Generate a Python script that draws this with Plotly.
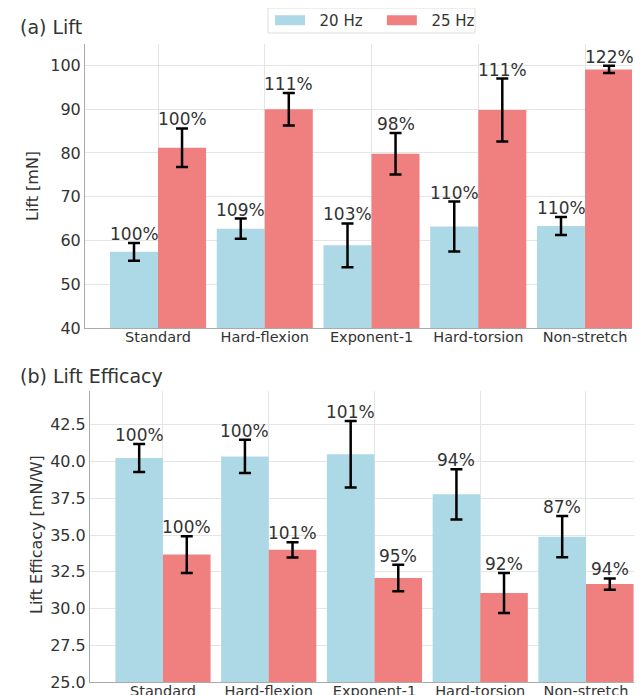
import plotly.graph_objects as go

categories = ["Standard", "Hard-flexion", "Exponent-1", "Hard-torsion", "Non-stretch"]

lift_20 = [57.4, 62.7, 58.9, 63.2, 63.3]
lift_20_err = [2.05, 2.3, 5.0, 5.7, 2.05]
lift_25 = [81.2, 90.0, 79.8, 89.8, 99.1]
lift_25_err = [4.4, 3.7, 4.75, 7.2, 0.85]
lift_20_pct = ["100%", "109%", "103%", "110%", "110%"]
lift_25_pct = ["100%", "111%", "98%", "111%", "122%"]

eff_20 = [40.24, 40.35, 40.5, 37.77, 34.89]
eff_20_err = [0.95, 1.13, 2.26, 1.71, 1.4]
eff_25 = [33.67, 33.99, 32.07, 31.05, 31.66]
eff_25_err = [1.25, 0.52, 0.9, 1.36, 0.39]
eff_20_pct = ["100%", "100%", "101%", "94%", "87%"]
eff_25_pct = ["100%", "101%", "95%", "92%", "94%"]

series_names = ["20 Hz", "25 Hz"]
colors = ["#ADD8E6", "#F08080"]

FONT = "DejaVu Sans"
TXT = "#333333"
# the page body adds an 8px margin; the figure fills the rest of the 643x695 window
OFF = 8
W, H = 643 - OFF, 695 - OFF


def fx(px):
    return (px - OFF) / W


def fy(py):
    return 1 - (py - OFF) / H


xs = list(range(len(categories)))
fig = go.Figure()

panels = [
    ("x", "y", [lift_20, lift_25], [lift_20_err, lift_25_err], [lift_20_pct, lift_25_pct]),
    ("x2", "y2", [eff_20, eff_25], [eff_20_err, eff_25_err], [eff_20_pct, eff_25_pct]),
]

offsets = [-0.45, 0.0]
for xa, ya, vals, errs, pcts in panels:
    for k in range(2):
        fig.add_trace(go.Bar(
            x=xs, y=vals[k], xaxis=xa, yaxis=ya,
            width=0.45, offset=offsets[k],
            marker=dict(color=colors[k], line=dict(width=0)),
            error_y=dict(type="data", array=errs[k], color="black", thickness=2.5, width=6),
            name=series_names[k], showlegend=False, legendgroup=series_names[k],
        ))
        for i in xs:
            fig.add_annotation(
                x=i + offsets[k] + 0.225, y=vals[k][i] + errs[k][i],
                xref=xa, yref=ya, text=pcts[k][i], showarrow=False,
                yanchor="bottom", yshift=-3,
                font=dict(family=FONT, size=17, color=TXT),
            )

# legend entries with wide swatches (no-break spaces space the entries)
NB = "\u00a0"
legend_lead = [NB * 2, NB * 2]
legend_trail = [NB * 3, ""]
for k in range(2):
    fig.add_trace(go.Scatter(
        x=[None], y=[None], mode="lines",
        name=legend_lead[k] + series_names[k] + legend_trail[k],
        line=dict(color=colors[k], width=11), legendgroup=series_names[k],
        showlegend=True,
    ))

axis_common = dict(
    showgrid=True, gridcolor="#E5E5E5", gridwidth=1,
    showline=True, linecolor="#AAAAAA", linewidth=1,
    ticks="", zeroline=False,
    tickfont=dict(family=FONT, size=16, color=TXT),
    automargin=False,
)

fig.update_layout(
    width=W, height=H,
    margin=dict(l=0, r=0, t=0, b=0, autoexpand=False),
    paper_bgcolor="white", plot_bgcolor="white",
    barmode="overlay",
    font=dict(family=FONT, color=TXT),
    xaxis=dict(axis_common, domain=[fx(85), fx(632)], anchor="y",
               tickvals=xs, ticktext=categories, range=[-0.684, 4.44],
               ticklabelstandoff=-4,
               tickfont=dict(family=FONT, size=14.5, color=TXT)),
    yaxis=dict(axis_common, domain=[fy(328), fy(44)], anchor="x",
               range=[40, 104.9], tickvals=[40, 50, 60, 70, 80, 90, 100]),
    xaxis2=dict(axis_common, domain=[fx(90), fx(634)], anchor="y2",
                tickvals=xs, ticktext=categories, range=[-0.69, 4.454],
                ticklabelstandoff=-4,
                tickfont=dict(family=FONT, size=14.5, color=TXT)),
    yaxis2=dict(axis_common, domain=[fy(682), fy(391)], anchor="x2",
                range=[25, 44.8], tickvals=[25, 27.5, 30, 32.5, 35, 37.5, 40, 42.5],
                tickformat=".1f"),
    legend=dict(
        orientation="h", x=fx(270), y=fy(4), xanchor="left", yanchor="top",
        bgcolor="rgba(0,0,0,0)", borderwidth=0,
        font=dict(family=FONT, size=15, color=TXT), itemwidth=30,
    ),
    shapes=[dict(type="rect", xref="paper", yref="paper",
                 x0=fx(268), x1=fx(475), y0=fy(33), y1=fy(8),
                 line=dict(color="#DDDDDD", width=1), fillcolor="white", layer="below")],
)

fig.add_annotation(x=fx(18), y=fy(27), xref="paper", yref="paper", text="(a) Lift",
                   showarrow=False, xanchor="left", yanchor="middle",
                   font=dict(family=FONT, size=19, color=TXT))
fig.add_annotation(x=fx(18), y=fy(376), xref="paper", yref="paper", text="(b) Lift Efficacy",
                   showarrow=False, xanchor="left", yanchor="middle",
                   font=dict(family=FONT, size=19, color=TXT))
fig.add_annotation(x=fx(33), y=fy(186), xref="paper", yref="paper", text="Lift [mN]",
                   showarrow=False, textangle=-90, xanchor="center", yanchor="middle",
                   font=dict(family=FONT, size=16, color=TXT))
fig.add_annotation(x=fx(36), y=fy(535), xref="paper", yref="paper", text="Lift Efficacy [mN/W]",
                   showarrow=False, textangle=-90, xanchor="center", yanchor="middle",
                   font=dict(family=FONT, size=16, color=TXT))

fig.write_html("out.html")
